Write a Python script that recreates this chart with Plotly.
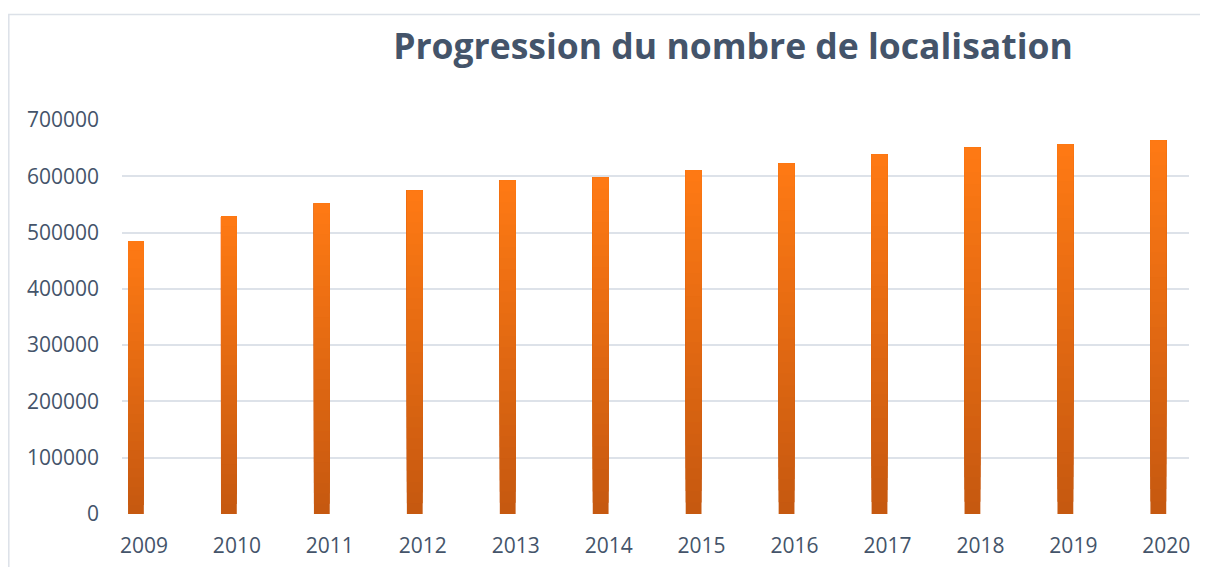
import plotly.graph_objects as go

years = [2009, 2010, 2011, 2012, 2013, 2014, 2015, 2016, 2017, 2018, 2019, 2020]
values = [485000, 529000, 552000, 575000, 593000, 598000, 611000, 623000, 639000, 651000, 657000, 664000]
y_ticks = [0, 100000, 200000, 300000, 400000, 500000, 600000, 700000]

# the page adds an 8px body margin, so the figure is laid out 8px up/left
W, H = 1200, 559
L, R, T, B = 114, 19, 112, 53

def lerp(c1, c2, t):
    return "rgb(%d,%d,%d)" % tuple(round(a + (b - a) * t) for a, b in zip(c1, c2))

bottom_c = (197, 88, 16)
top_c = (255, 122, 20)
N = 30
fig = go.Figure()
for i in range(N):
    f = i / N
    fig.add_trace(go.Bar(
        x=years,
        y=[v * (1 - f) for v in values],
        base=[v * f for v in values],
        width=0.17,
        marker=dict(color=lerp(bottom_c, top_c, (i + 0.5) / N), line=dict(width=0)),
        showlegend=False,
        hoverinfo="skip" if i else None,
    ))

font_color = "#44546A"
pw = W - L - R
ph = H - T - B
fig.add_shape(type="rect", xref="paper", yref="paper",
              x0=(0.8 - L) / pw, x1=(W + 20 - L) / pw,
              y0=-(H + 20 - T - ph) / ph, y1=(H - 6.5 - B) / ph,
              line=dict(color="#DCE1E8", width=1.5), layer="below")

fig.update_layout(
    width=W, height=H,
    margin=dict(l=L, r=R, t=T, b=B),
    barmode="overlay",
    paper_bgcolor="white", plot_bgcolor="white",
    font=dict(family="Open Sans", color=font_color, size=21),
    title=dict(text="<b>Progression du nombre de localisation</b>",
               x=725 / W, xref="container", xanchor="center",
               y=1 - 39 / H, yref="container", yanchor="middle",
               font=dict(size=35.5, color=font_color, family="Open Sans")),
    xaxis=dict(tickmode="array", tickvals=years, ticktext=[str(y) for y in years],
               range=[2008.85, 2020.33], showgrid=False, zeroline=False,
               showline=False, ticks="", ticklabelstandoff=17, ticklabelshift=8,
               automargin=False),
    yaxis=dict(range=[0, 700000], tickvals=y_ticks, ticktext=[str(v) for v in y_ticks],
               showgrid=True, gridcolor="#DDE2E9", gridwidth=2, zeroline=False,
               showline=False, ticks="", ticklabelstandoff=22, automargin=False),
)
fig.write_html("out.html")
